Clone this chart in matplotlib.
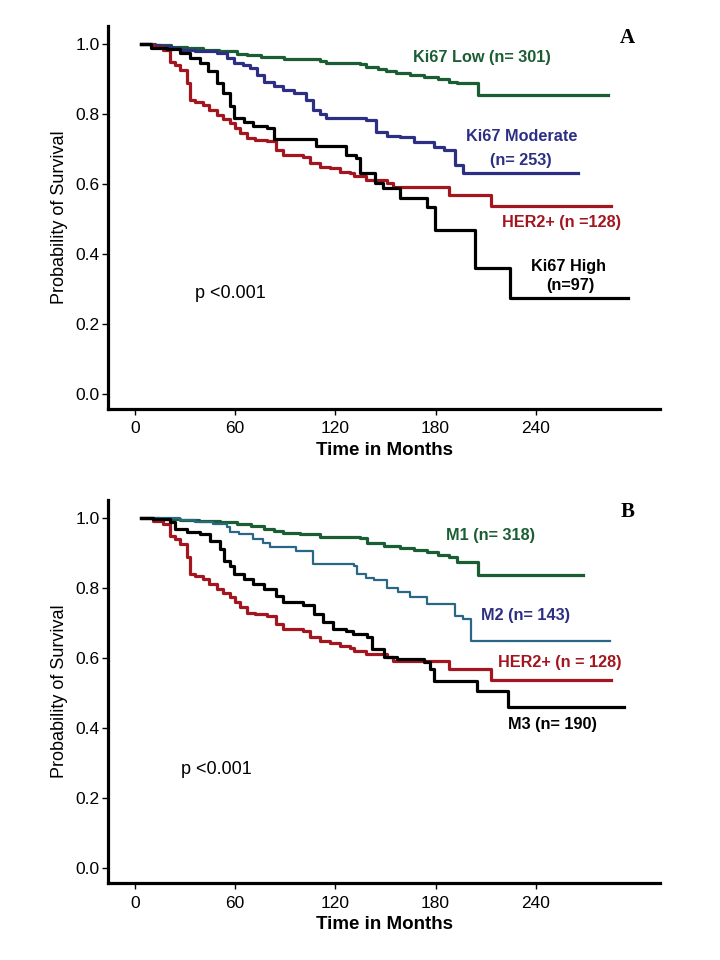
import matplotlib
matplotlib.use("Agg")
import matplotlib.pyplot as plt

plt.rcParams['font.family'] = ['Liberation Sans', 'DejaVu Sans']

# ---- Panel A : Ki67 groups + HER2+ ----
low_t = [3.8, 12.1, 21.6, 31.1, 40.7, 50.2, 60.9, 66.9, 75.2, 89.5, 110.9, 114.5, 134.7, 138.3, 145.5, 150.2, 156.2,
         164.5, 172.9, 181.2, 188.3, 193.1, 205.6, 283.6]
low_s = [1.0, 0.997, 0.993, 0.989, 0.984, 0.979, 0.972, 0.968, 0.963, 0.958, 0.953, 0.947, 0.944, 0.936, 0.929, 0.922,
         0.917, 0.912, 0.907, 0.9, 0.893, 0.889, 0.855, 0.855]

mod_t = [3.8, 9.7, 15.1, 21.6, 27.1, 35.9, 49, 55, 59, 64.5, 68.9, 72.8, 77, 83.5, 88.9, 95.4, 102.6, 106.8, 110.9,
         114.5, 138.3, 144.3, 150.8, 158.6, 166.9, 178.8, 184.8, 191.9, 196.7, 265.3]
mod_s = [1.0, 0.998, 0.995, 0.99, 0.984, 0.98, 0.976, 0.96, 0.946, 0.94, 0.931, 0.912, 0.893, 0.88, 0.869, 0.86, 0.841,
         0.812, 0.8, 0.789, 0.784, 0.75, 0.738, 0.736, 0.72, 0.707, 0.698, 0.655, 0.631, 0.631]

her2_t = [3.8, 10.9, 16.9, 21, 24, 27.1, 31.1, 33, 35.9, 40.7, 44.2, 49, 52.6, 56.9, 59.7, 62.8, 66.9, 71.6, 78.8, 84.7,
          88.9, 100.9, 105, 110.9, 116.9, 122.8, 128.8, 131.2, 138.3, 150.8, 154.4, 187.8, 213.3, 285.4]
her2_s = [1.0, 0.993, 0.984, 0.95, 0.94, 0.927, 0.889, 0.841, 0.835, 0.827, 0.812, 0.798, 0.787, 0.774, 0.76, 0.746,
          0.731, 0.727, 0.722, 0.698, 0.684, 0.679, 0.66, 0.65, 0.645, 0.636, 0.631, 0.622, 0.612, 0.603, 0.593, 0.569,
          0.539, 0.539]

high_t = [3.8, 9.7, 19.2, 27, 32.9, 38.9, 44, 49, 52.9, 56.9, 59, 65, 70.9, 78.8, 83, 108.6, 126.4, 132.4, 134.8, 143.7,
          148.7, 158.6, 174.6, 179.6, 203.8, 224.5, 295.5]
high_s = [1.0, 0.989, 0.986, 0.974, 0.96, 0.946, 0.922, 0.889, 0.86, 0.822, 0.789, 0.779, 0.767, 0.76, 0.729, 0.71,
          0.684, 0.674, 0.631, 0.603, 0.589, 0.56, 0.536, 0.469, 0.36, 0.274, 0.274]

# ---- Panel B : M1 / M2 / M3 + HER2+ ----
m1_t = [3.8, 14.5, 27.1, 38.3, 51, 60.9, 69.3, 77, 83.5, 88.9, 99, 110.9, 134.7, 138.9, 149, 158.6, 166.9, 174.8,
        181.2, 188.3, 192.6, 205.6, 268.1]
m1_s = [1.0, 0.998, 0.996, 0.993, 0.99, 0.984, 0.977, 0.971, 0.964, 0.958, 0.954, 0.946, 0.943, 0.931, 0.922, 0.915,
        0.909, 0.903, 0.896, 0.889, 0.876, 0.839, 0.839]

m2_t = [3.8, 27.1, 35.9, 46.6, 55, 56.9, 62.1, 70.9, 76.4, 80.9, 96.6, 106.8, 131.2, 132.9, 138.3, 143.1, 150.8, 157.4,
        164.5, 174.8, 191.7, 196.7, 201.4, 284.3]
m2_s = [1.0, 0.995, 0.99, 0.984, 0.974, 0.96, 0.955, 0.941, 0.93, 0.917, 0.907, 0.869, 0.865, 0.841, 0.831, 0.825, 0.8,
        0.79, 0.774, 0.755, 0.722, 0.712, 0.65, 0.65]

m3_t = [3.8, 10.9, 21, 24, 31.1, 38.9, 44.8, 51, 53.1, 56.9, 59, 65, 70.9, 77, 84.7, 88.9, 100.9, 106.9, 112.7, 118.7,
        126.4, 130.7, 138.9, 141.9, 149, 156.8, 172.9, 176.4, 178.8, 205, 223.6, 293.1]
m3_s = [1.0, 0.998, 0.989, 0.969, 0.96, 0.955, 0.936, 0.912, 0.879, 0.865, 0.841, 0.827, 0.812, 0.798, 0.779, 0.762,
        0.752, 0.727, 0.703, 0.684, 0.679, 0.669, 0.66, 0.627, 0.603, 0.598, 0.589, 0.569, 0.536, 0.507, 0.462, 0.462]

GREEN = '#1b5e34'
NAVY = '#2d2f84'
RED = '#a3161f'
TEAL = '#2a6787'


def setup(ax, letter):
    ax.set_xlim(-16.2, 314.6)
    ax.set_ylim(-0.042, 1.052)
    for s in ['top', 'right']:
        ax.spines[s].set_visible(False)
    for s in ['left', 'bottom']:
        ax.spines[s].set_linewidth(2.3)
    ax.set_xticks([0, 60, 120, 180, 240])
    ax.set_yticks([0.0, 0.2, 0.4, 0.6, 0.8, 1.0])
    ax.set_yticklabels(['0.0', '0.2', '0.4', '0.6', '0.8', '1.0'])
    ax.tick_params(labelsize=12.5, length=4, width=1, pad=2)
    ax.tick_params(axis='x', pad=5)
    ax.set_xlabel("Time in Months", fontsize=13.5, fontweight='bold', labelpad=4)
    ax.set_ylabel("Probability of Survival", fontsize=13, labelpad=5)
    ax.text(295, 1.018, letter, fontsize=15, fontweight='bold', family='Liberation Serif',
            ha='center', va='center')


fig = plt.figure(figsize=(7.2, 9.6), dpi=100)
axA = fig.add_axes([0.15, 0.574, 0.767, 0.399])
axB = fig.add_axes([0.15, 0.080, 0.767, 0.399])

lw = 2.3
axA.plot(low_t, low_s, drawstyle='steps-post', color=GREEN, lw=lw)
axA.plot(mod_t, mod_s, drawstyle='steps-post', color=NAVY, lw=lw)
axA.plot(her2_t, her2_s, drawstyle='steps-post', color=RED, lw=lw)
axA.plot(high_t, high_s, drawstyle='steps-post', color='black', lw=lw)
setup(axA, 'A')

kw = dict(fontsize=11.7, fontweight='bold', ha='center', va='center')
axA.text(207.9, 0.961, "Ki67 Low (n= 301)", color=GREEN, **kw)
axA.text(231.6, 0.736, "Ki67 Moderate", color=NAVY, **kw)
axA.text(231.2, 0.669, "(n= 253)", color=NAVY, **kw)
axA.text(255.5, 0.49, "HER2+ (n =128)", color=RED, **kw)
axA.text(259.8, 0.365, "Ki67 High", color='black', **kw)
axA.text(260.5, 0.312, "(n=97)", color='black', **kw)
axA.text(56.9, 0.289, "p <0.001", fontsize=13, ha='center', va='center')

axB.plot(m1_t, m1_s, drawstyle='steps-post', color=GREEN, lw=lw)
axB.plot(m2_t, m2_s, drawstyle='steps-post', color=TEAL, lw=1.6)
axB.plot(her2_t, her2_s, drawstyle='steps-post', color=RED, lw=lw)
axB.plot(m3_t, m3_s, drawstyle='steps-post', color='black', lw=lw)
setup(axB, 'B')

axB.text(212.9, 0.95, "M1 (n= 318)", color=GREEN, **kw)
axB.text(233.6, 0.722, "M2 (n= 143)", color=NAVY, **kw)
axB.text(254.6, 0.589, "HER2+ (n = 128)", color=RED, **kw)
axB.text(250.3, 0.412, "M3 (n= 190)", color='black', **kw)
axB.text(49, 0.284, "p <0.001", fontsize=13, ha='center', va='center')

fig.savefig("out.png", dpi=100)
